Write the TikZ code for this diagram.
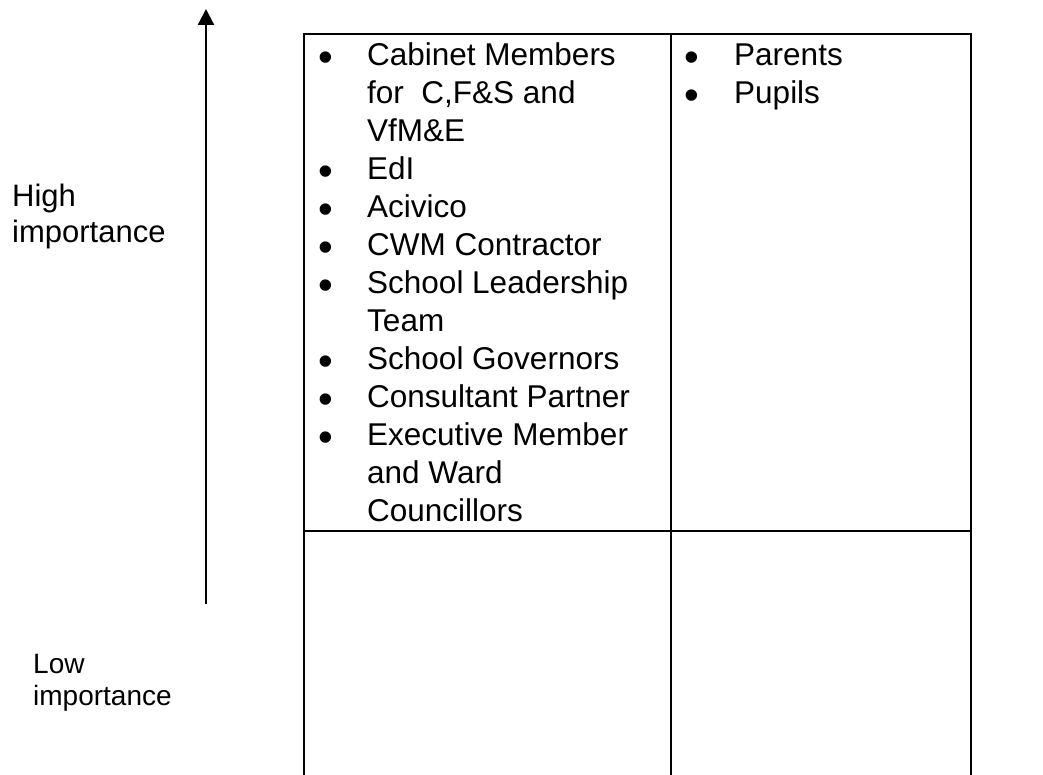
\documentclass[tikz,border=0pt]{standalone}
\usepackage{fontspec}
\setmainfont{Liberation Sans}
\usetikzlibrary{arrows.meta}
\begin{document}
\begin{tikzpicture}[x=1pt,y=-1pt,
  txt/.style={anchor=base west, inner sep=0pt, font=\fontsize{31.5}{38}\selectfont},
  bulletmark/.style={anchor=base, inner sep=0pt, font=\fontsize{42}{42}\selectfont},
  side/.style={anchor=base west, inner sep=0pt, font=\fontsize{31}{36}\selectfont},
  lowside/.style={anchor=base west, inner sep=0pt, font=\fontsize{28}{32}\selectfont},
  rulestyle/.style={line width=2.2pt, line join=miter},
  axis/.style={line width=2.2pt, -{Triangle[length=16pt,width=16pt]}}
]
\useasboundingbox (0,0) rectangle (1043,775);
% table grid
\coordinate (tl) at (304,34);
\coordinate (tm) at (671,34);
\coordinate (tr) at (971,34);
\coordinate (bl) at (304,775);
\coordinate (bm) at (671,775);
\coordinate (br) at (971,775);
\coordinate (ml) at (304,531);
\coordinate (mr) at (971,531);
\draw[rulestyle] (bl) -- (tl) -- (tr) -- (br);
\draw[rulestyle] (tm) -- (bm);
\draw[rulestyle] (ml) -- (mr);
% axis arrow
\coordinate (abot) at (206,604);
\coordinate (atop) at (206,9);
\draw[axis] (abot) -- (atop);
% side labels
\node[side] (hi1) at (12,207) {High};
\node[side] (hi2) at (12,243) {importance};
\node[lowside] (lo1) at (33,673) {Low};
\node[lowside] (lo2) at (33,705) {importance};
% bullets (glyph baseline 15pt below the dot centre)
\node[bulletmark] (b0) at (326,72) {\textbullet};
\node[bulletmark] (b3) at (326,185.91) {\textbullet};
\node[bulletmark] (b4) at (326,223.88) {\textbullet};
\node[bulletmark] (b5) at (326,261.85) {\textbullet};
\node[bulletmark] (b6) at (326,299.82) {\textbullet};
\node[bulletmark] (b8) at (326,375.76) {\textbullet};
\node[bulletmark] (b9) at (326,413.73) {\textbullet};
\node[bulletmark] (b10) at (326,451.7) {\textbullet};
\node[bulletmark] (r0b) at (692,72) {\textbullet};
\node[bulletmark] (r1b) at (692,109.97) {\textbullet};
% left column
\node[txt] (l0) at (367,66) {Cabinet Members};
\node[txt] (l1) at (367,103.97) {for\ \ C,F\&S and};
\node[txt] (l2) at (367,141.94) {VfM\&E};
\node[txt] (l3) at (367,179.91) {EdI};
\node[txt] (l4) at (367,217.88) {Acivico};
\node[txt] (l5) at (367,255.85) {CWM Contractor};
\node[txt] (l6) at (367,293.82) {School Leadership};
\node[txt] (l7) at (367,331.79) {Team};
\node[txt] (l8) at (367,369.76) {School Governors};
\node[txt] (l9) at (367,407.73) {Consultant Partner};
\node[txt] (l10) at (367,445.7) {Executive Member};
\node[txt] (l11) at (367,483.67) {and Ward};
\node[txt] (l12) at (367,521.64) {Councillors};
% right column
\node[txt] (r0) at (734,66) {Parents};
\node[txt] (r1) at (734,103.97) {Pupils};
\end{tikzpicture}
\end{document}
